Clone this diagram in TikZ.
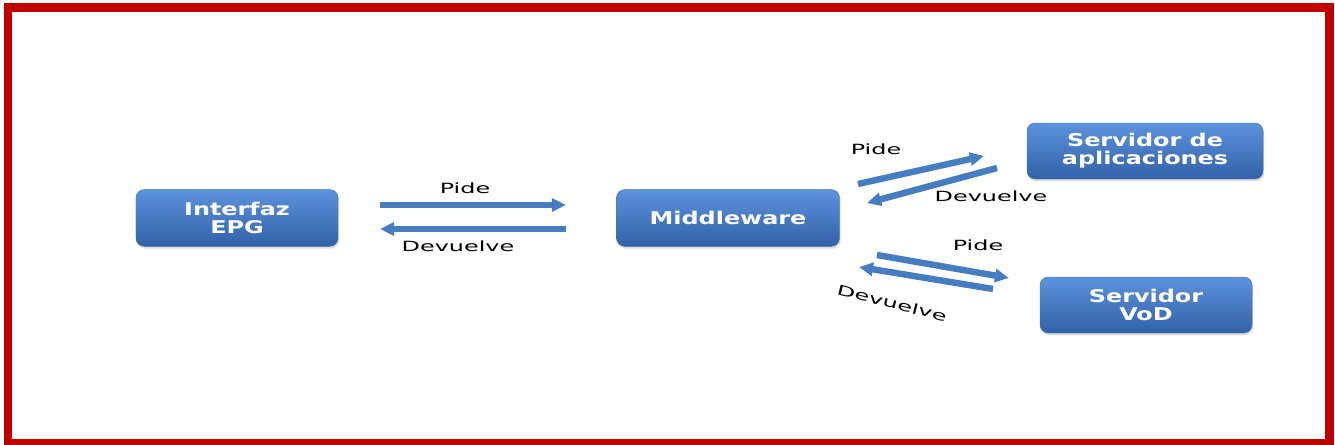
\documentclass[tikz,border=0pt]{standalone}
\usepackage{fontspec}
\usetikzlibrary{arrows.meta,shadows}
\newfontfamily\boxfont{DejaVu Sans Bold}[FakeStretch=1.36]
\newfontfamily\msgfont{DejaVu Sans}[FakeStretch=1.7]
\definecolor{frame}{RGB}{192,0,0}
\definecolor{boxtop}{RGB}{92,146,220}
\definecolor{boxbot}{RGB}{50,98,168}
\definecolor{boxedge}{RGB}{66,112,176}
\definecolor{arrowblue}{RGB}{70,124,192}

\begin{document}
\begin{tikzpicture}[x=0.03cm, y=-0.03cm]
	% Define styles
	\tikzstyle{block} = [rectangle, draw=boxedge, top color=boxtop, bottom color=boxbot,
	rounded corners=7pt, text=white, align=center, minimum height=1.7cm,
	font=\boxfont\fontsize{15}{15.5}\selectfont,
	drop shadow={opacity=0.25, shadow xshift=1pt, shadow yshift=-2pt}]
	\tikzstyle{arrow} = [draw=arrowblue, line width=5.5pt, -{Triangle[length=12pt, width=11pt]}]
	\tikzstyle{msg} = [font=\msgfont\fontsize{12}{13}\selectfont]
	
	% Frame
	\useasboundingbox (0,0) rectangle (1335,445);
	\draw [frame, line width=0.255cm] (8,7.5) rectangle (1329.5,443.5);
	
	% Place nodes
	\node [block, minimum width=6.06cm] (epg) at (237,218) {Interfaz\\EPG};
	\node [block, minimum width=6.69cm] (middleware) at (728,218) {Middleware};
	\node [block, minimum width=7.08cm, minimum height=1.68cm] (apps) at (1145,151) {Servidor de\\aplicaciones};
	\node [block, minimum width=6.36cm, minimum height=1.68cm] (vod) at (1146,305) {Servidor\\VoD};
	
	% Arrow ends
	\coordinate (req1a) at (380,205);  \coordinate (req1b) at (566,205);
	\coordinate (ret1a) at (566,229);  \coordinate (ret1b) at (380,229);
	\coordinate (req2a) at (858,184);  \coordinate (req2b) at (984,156);
	\coordinate (ret2a) at (997,168);  \coordinate (ret2b) at (867,203);
	\coordinate (req3a) at (877,255);  \coordinate (req3b) at (1009,278);
	\coordinate (ret3a) at (993,289);  \coordinate (ret3b) at (859,267);
	
	% Draw arrows
	\draw [arrow] (req1a) -- (req1b);
	\draw [arrow] (ret1a) -- (ret1b);
	\draw [arrow] (req2a) -- (req2b);
	\draw [arrow] (ret2a) -- (ret2b);
	\draw [arrow] (req3a) -- (req3b);
	\draw [arrow] (ret3a) -- (ret3b);
	
	% Labels
	\node [msg] (pide1) at (465,188) {Pide};
	\node [msg] (dev1) at (458,246) {Devuelve};
	\node [msg] (pide2) at (876,149) {Pide};
	\node [msg] (dev2) at (991,196) {Devuelve};
	\node [msg] (pide3) at (978,245) {Pide};
	\node [msg, rotate=-14] (dev3) at (892,303) {Devuelve};
\end{tikzpicture}
\end{document}
